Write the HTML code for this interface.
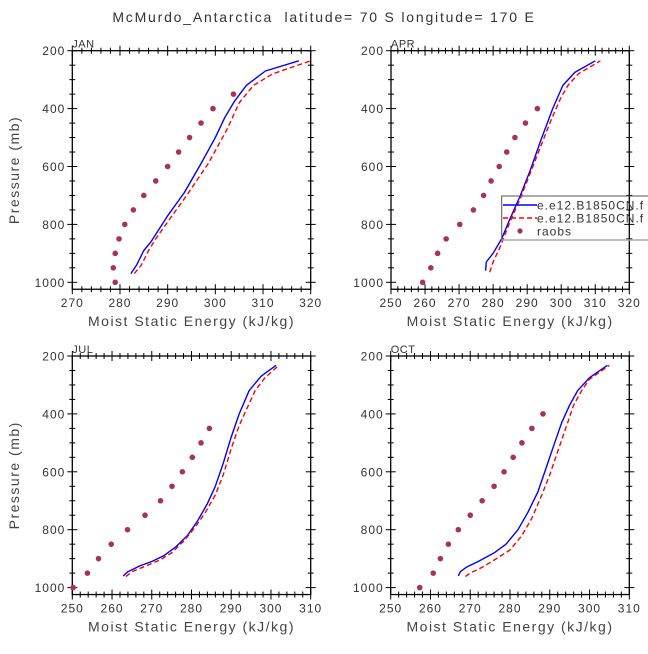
<!DOCTYPE html>
<html><head><meta charset="utf-8"><style>
body{margin:0;background:#fff;width:648px;height:649px;overflow:hidden;font-family:"Liberation Sans",sans-serif}
svg text{font-family:"Liberation Sans",sans-serif}
</style></head><body>
<svg id="c" width="648" height="649" xmlns="http://www.w3.org/2000/svg">
<text x="324" y="22" text-anchor="middle" font-size="14" fill="#333" letter-spacing="1.8" xml:space="preserve">McMurdo_Antarctica  latitude= 70 S longitude= 170 E</text>
</svg>
<script>
const panelNames=["JAN","APR","JUL","OCT"];
const janBlue=[[282.3,970],[283.5,940],[285,890],[286.5,860],[290,770],[293.5,690],[297,590],[300,500],[302,430],[304,375],[306.5,320],[310.5,270],[317.5,235]];
const janRed=[[283,970],[284.5,940],[286,890],[287.5,850],[290.5,780],[294,700],[298.5,590],[302.5,470],[305,380],[308,320],[312,280],[320,235]];
const janObs=[[279,1000],[278.6,950],[279,900],[279.8,850],[281,800],[282.8,750],[285,700],[287.5,650],[290,600],[292.3,550],[294.6,500],[297,450],[299.5,400],[303.8,350]];
const aprBlue=[[277.8,960],[278,930],[280,900],[282.5,850],[285,780],[288,700],[291,610],[294,510],[297.5,400],[300.5,320],[304,275],[310,235]];
const aprRed=[[279,965],[280,930],[282,880],[285,790],[288,710],[291,620],[294,530],[297,440],[300,360],[302,320],[305,280],[311.5,235]];
const aprObs=[[259.3,1000],[261.7,950],[263.7,900],[266.2,850],[270.2,800],[274.2,750],[277.2,700],[279.4,650],[281.8,600],[284,550],[286.4,500],[289.5,450],[293,400]];
const julBlue=[[262.8,960],[264,945],[267,925],[270,910],[273,890],[276,860],[279,820],[281.5,770],[284,710],[286,650],[288,570],[290,480],[292,400],[294.5,320],[297.5,270],[301.3,232]];
const julRed=[[263.5,962],[265,945],[268,928],[272,905],[275,880],[278,840],[281,790],[283.5,740],[286,680],[288,610],[290,520],[292,440],[294,380],[296,320],[298.5,275],[302,232]];
const julObs=[[250.2,1000],[253.8,950],[256.6,900],[259.8,850],[263.9,800],[268.3,750],[272.2,700],[275.1,650],[277.7,600],[280.2,550],[282.4,500],[284.5,450]];
const octBlue=[[267,960],[267.5,945],[269,930],[272,910],[276,880],[279,850],[282,800],[284.5,740],[287,670],[289,590],[291,510],[293,430],[295,370],[297,320],[300,275],[304.5,232]];
const octRed=[[268.8,962],[270,950],[273,930],[276,905],[280,870],[283,820],[285.5,760],[288,680],[290,610],[292,530],[294,450],[296,370],[298,320],[300,280],[305,232]];
const octObs=[[257.3,1000],[260.7,950],[262.5,900],[264.5,850],[267,800],[270,750],[273,700],[276,650],[278.5,600],[280.8,550],[283,500],[285.5,450],[288.3,400]];
const xRanges=[[270,320],[250,320],[250,310],[250,310]];
const yTicks=[200,400,600,800,1000];
const legendLabels=["e.e12.B1850CN.f","e.e12.B1850CN.f","raobs"];
const series=[[janBlue,janRed,janObs],[aprBlue,aprRed,aprObs],[julBlue,julRed,julObs],[octBlue,octRed,octObs]];
const boxes=[[72.3,50.7,310.7],[391,50.7,629.3],[72.3,356,310.7],[390.7,356,629.3]];
const NS="http://www.w3.org/2000/svg";
const svg=document.getElementById('c');
function mk(t,a,p){const e=document.createElementNS(NS,t);for(const k in a)e.setAttribute(k,a[k]);(p||svg).appendChild(e);return e;}
series.forEach((s,i)=>{
  const [L,T,R]=boxes[i];
  const x0=xRanges[i][0],x1=xRanges[i][1];
  const sy=231.6/800;
  const X=v=>L+(v-x0)/(x1-x0)*(R-L);
  const Y=p=>T+(p-200)*sy;
  const B=Y(1024);
  const g=mk('g',{});
  
  
  const box=mk('rect',{x:L,y:T,width:R-L,height:B-T,fill:'none',stroke:'#000','stroke-width':1.3},g);
  
  
  const lab=mk('text',{x:L,y:T-3,'font-size':11,fill:'#333','letter-spacing':0.5},g);lab.textContent=panelNames[i];
  
  
  for(let v=x0;v<=x1+0.01;v+=2){
    const maj=((v-x0)%10===0);const len=maj?5:3;const x=X(v);
    mk('line',{x1:x,x2:x,y1:B-len,y2:B+len,stroke:'#000','stroke-width':1},g);
    mk('line',{x1:x,x2:x,y1:T-len,y2:T+len,stroke:'#000','stroke-width':1},g);
    if(maj){const t=mk('text',{x:x,y:B+18,'text-anchor':'middle','font-size':12,fill:'#333','letter-spacing':1},g);t.textContent=v;
      
      }
  }
  for(let p=200;p<=1000;p+=50){
    const maj=yTicks.includes(p);const len=maj?5:3;const y=Y(p);
    mk('line',{x1:L-len,x2:L+len,y1:y,y2:y,stroke:'#000','stroke-width':1},g);
    mk('line',{x1:R-len,x2:R+len,y1:y,y2:y,stroke:'#000','stroke-width':1},g);
    if(maj){const t=mk('text',{x:L-7,y:y+4.5,'text-anchor':'end','font-size':12,fill:'#333','letter-spacing':1},g);t.textContent=p;
      
      }
  }
  const xt=mk('text',{x:(L+R)/2,y:B+37,'text-anchor':'middle','font-size':14,fill:'#444','letter-spacing':1.5},g);xt.textContent='Moist Static Energy (kJ/kg)';
  
  
  if(i%2===0){const yt=mk('text',{x:0,y:0,'text-anchor':'middle','font-size':14,fill:'#444','letter-spacing':1.5,transform:`translate(19,${(T+B)/2}) rotate(-90)`},g);yt.textContent='Pressure (mb)';
    
    }
  const pts=a=>a.map(d=>X(d[0]).toFixed(1)+','+Y(d[1]).toFixed(1)).join(' ');
  const bl=mk('polyline',{points:pts(s[0]),fill:'none',stroke:'#0000ff','stroke-width':1.4,'stroke-linejoin':'round'},g);
  
  
  const rl=mk('polyline',{points:pts(s[1]),fill:'none',stroke:'#ff0000','stroke-width':1.4,'stroke-dasharray':'5,3'},g);
  
  
  s[2].forEach(d=>{const c=mk('circle',{cx:X(d[0]),cy:Y(d[1]),r:2.8,fill:'#a8325e'},g);
    
    });
});
// legend
const lg=mk('g',{});


mk('rect',{x:501.7,y:196,width:160,height:44,fill:'none',stroke:'#555','stroke-width':1},lg);
mk('line',{x1:501.7,x2:648,y1:240,y2:240,stroke:'#aaa','stroke-width':1.5},lg);
legendLabels.forEach((l,k)=>{
  const y=205+k*13;
  if(k===0)mk('line',{x1:503,x2:537,y1:y,y2:y,stroke:'#0000ff','stroke-width':1.4},lg);
  if(k===1)mk('line',{x1:503,x2:537,y1:y,y2:y,stroke:'#ff0000','stroke-width':1.4,'stroke-dasharray':'5,3'},lg);
  if(k===2)mk('circle',{cx:520,cy:y,r:2.6,fill:'#a8325e'},lg);
  const t=mk('text',{x:537,y:y+4.5,'font-size':12,fill:'#333','letter-spacing':1},lg);t.textContent=l;
  
  
});
</script>
</body></html>
